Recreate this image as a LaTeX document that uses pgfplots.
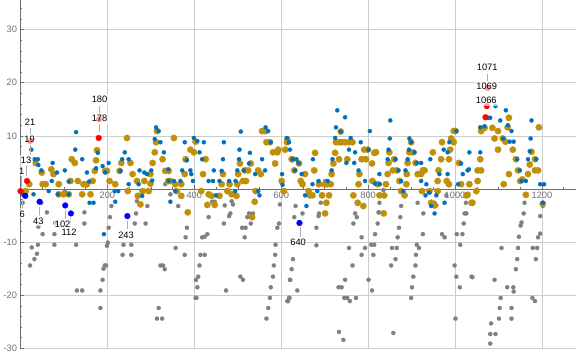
\documentclass[border=0pt]{standalone}
\usepackage{fontspec}
\setmainfont{Liberation Sans}
\usepackage{pgfplots}
\pgfplotsset{compat=1.18}
\definecolor{mblue}{RGB}{0,112,190}
\definecolor{mgold}{RGB}{192,144,8}
\definecolor{mgray}{RGB}{128,128,128}
\definecolor{tickc}{RGB}{110,110,110}
\definecolor{gridc}{RGB}{204,204,204}
\definecolor{calc}{RGB}{175,175,175}
\begin{document}
\begin{tikzpicture}
\begin{axis}[
  set layers=standard,
  scale only axis, width=555.5bp, height=349.3bp,
  xmin=0, xmax=1277.6, ymin=-30.2, ymax=35.5,
  axis lines=middle,
  axis line style={-, draw=tickc, line width=0.7bp},
  xtick={200,400,...,1200}, minor xtick={50,100,...,1250},
  ytick={-30,-20,-10,10,20,30}, minor ytick={-28,-26,...,-2,2,4,...,34},
  tick align=inside,
  major tick length=3.5bp, minor tick length=2bp,
  tick style={draw=tickc, line width=0.5bp},
  grid=major, major grid style={draw=gridc, line width=0.6bp},
  /pgf/number format/assume math mode=true,
  /pgf/number format/1000 sep={},
  tick label style={font=\fontsize{9.3bp}{11bp}\selectfont, text=tickc},
  clip=false,
]
% gray series
\addplot[only marks, mark=*, mark size=2.1bp, color=mgray, mark options={solid, line width=0.2bp}] table {
5 -2.6
26 -11
22 -14.4
32 -13.2
38 -12.2
40 -10.5
51 -8.5
41 -7.1
78 -10.5
78 -8.5
80 -6.4
128 -10.5
130 -19.1
142 -19.1
147 -6.5
147 -4.4
184 -19.1
184 -22.4
189 -17.1
191 -15
194 -14.4
199 -10.7
201 -10.1
102 -0.4
48 -2.6
61 -4.4
209 -3.2
206 -5.3
203 -7.3
197 -14.4
237 -10.5
235 -12.4
255 -10.5
255 -12.4
266 -4.6
263 -6.5
288 -6.5
292 -3.2
268 -2.3
322 -14.4
328 -14.4
332 -15.1
318 -22.4
314 -24.4
326 -24.4
357 -11.1
363 -3.2
378 -12.4
380 -9.1
383 -7.3
404 -17.1
407 -18.5
403 -20.5
345 -1.0
333 0.9
433 -5.3
418 -9.1
430 -8.5
424 -9.0
414 -12.4
424 -12.4
412 -14.4
409 -16.5
405 -20.5
441 -2.4
447 -2.4
470 -3.1
468 -6.5
473 -19.1
480 -5.1
483 -4.6
489 -2.9
486 -2.3
510 -7.3
518 -7.3
516 -9.1
522 -5.3
526 -4.6
535 -4.6
530 -6.5
506 -16.5
512 -17.1
566 -24.4
570 -22.4
574 -20.5
576 -18.5
581 -16.5
583 -14.4
586 -12.4
587 -10.5
591 -7.3
595 -6.5
597 -2.9
616 -21.1
619 -20.5
621 -17.1
633 -3.2
630 -5.3
649 -4.6
681 -7.3
681 -10.6
686 -5.1
687 -4.6
691 -2.6
627 -13.2
624 -15.1
620 -17.1
618 -20.5
614 -21.1
637 -19.1
732 -18.5
739 -18.5
747 -17.1
745 -20.5
752 -20.5
758 -21.1
772 -20.5
733 -26.9
743 -28.4
756 -11.1
764 -14.4
766 -6.5
770 -4.6
774 -5.3
785 -9.1
785 -12.4
793 -11.1
801 -17.1
809 -19.1
807 -10.5
812 -12.4
814 -10.5
816 -8.5
822 -6.5
824 -4.4
694 0.9
701 1.5
826 -2.6
825 -4.4
876 -3.2
874 -5.3
871 -7.3
868 -9.1
855 -11.1
866 -11.1
863 -13.2
853 -14.4
858 -27.1
835 -0.2
914 -2.6
926 -8.5
927 -4.6
912 -10.5
917 -11.1
910 -12.4
909 -14.4
904 -16.5
901 -18.5
899 -20.5
953 -2.6
957 -3.1
970 -8.5
976 -9.1
980 -1.2
1004 -8.5
1017 -8.5
1012 -10.5
999 -14.4
1003 -16.5
1011 -18.5
1001 -24.4
1020 -6.5
1022 -4.6
1025 -2.6
1038 -16.5
1026 -4.6
1040 -16.6
1091 -17.1
1083 -25.3
1081 -27.3
1093 -27.3
1081 -29.1
1101 -24.4
1103 -22.4
1105 -20.5
1107 -11.1
1120 -18.5
1130 -22.4
1130 -24.4
1134 -18.5
1135 -19.3
1140 -15.1
1143 -13.2
1145 -11.1
1147 -9.0
1151 -6.9
1153 -6.3
1158 -4.6
1160 -2.6
1178 -20.5
1184 -21.1
1179 -11.1
1189 -11.1
1186 -13.2
1191 -9.1
1196 -8.4
1196 -5.1
1202 -3.2
1203 -2.6
};
% gold series
\addplot[only marks, mark=*, mark size=3.2bp, color=mgold, mark options={solid, line width=0.3bp}] table {
20 0.9
12 -0.4
49 3.1
51 0.9
58 0.9
71 3.7
76 2.8
88 0.9
88 -1.0
99 -1.0
111 -1.0
118 5.6
125 4.9
115 1.5
132 1.5
142 -1.0
145 0.9
153 0.9
166 1.5
171 3.4
174 5.4
176 7.3
195 3.4
161 -1.0
34 4.9
199 3.4
205 1.5
218 0.9
228 3.4
232 4.9
245 9.6
247 -0.4
253 4.9
258 2.8
268 1.5
270 -1.3
276 -2.9
281 -0.4
285 1.5
299 2.8
299 1.0
304 4.9
309 6.9
312 8.8
314 10.9
327 5.6
333 3.4
341 3.4
340 1.5
345 1.5
353 9.6
356 0.9
360 -0.4
370 0.9
378 2.8
380 5.6
370 -1.3
385 -4.4
391 7.4
399 6.9
403 8.9
295 -0.4
426 5.6
420 2.8
416 -0.4
433 -1.0
430 -3.0
447 -3.0
440 -1.3
458 -1.3
463 0.9
466 2.8
476 -0.4
481 0.9
486 -1.0
497 -1.3
499 0.9
501 2.8
505 4.8
512 1.5
519 1.5
516 3.5
524 3.5
530 4.8
547 3.5
553 2.8
556 10.9
564 10.9
566 8.8
574 8.8
581 6.9
586 4.8
591 6.9
593 7.4
609 7.4
613 8.8
601 1.5
606 -0.4
539 -2.4
541 -0.4
533 -5.3
626 5.6
614 9.3
624 5.6
630 3.5
641 4.8
645 1.5
649 0.9
655 2.8
663 -0.4
666 -1.2
672 -1.2
676 3.5
678 6.8
687 0.9
694 -1.2
701 0.9
707 0.9
714 0.9
710 -1.2
704 -2.6
701 -4.6
716 2.8
720 4.8
724 6.8
726 8.8
733 8.8
737 10.8
739 8.8
733 5.6
747 8.8
752 5.6
756 8.8
764 8.8
766 -1.2
776 -2.6
778 0.9
780 2.8
785 5.6
791 7.4
795 5.6
799 7.4
789 -3.2
809 4.8
810 1.5
814 6.8
826 -1.2
818 6.9
822 0.9
837 -1.2
836 -4.6
841 0.9
847 4.9
849 6.9
845 2.8
857 3.5
860 5.6
866 3.5
872 1.5
876 -0.4
884 -1.2
888 0.9
889 2.8
891 4.9
895 6.9
899 8.8
903 6.9
909 4.9
914 2.8
922 2.8
926 3.5
930 3.5
924 -0.4
941 -0.4
945 -2.6
953 -3.1
949 6.9
960 1.5
962 3.5
960 -0.4
968 5.6
970 8.8
981 1.5
986 0.9
986 5.6
989 7.4
991 9.5
997 8.8
997 10.9
1001 10.9
1009 4.9
1014 0.9
1026 -1.2
1038 -2.6
1033 0.9
1029 -1.1
1040 -2.6
1049 -0.4
1052 1.5
1052 3.5
1060 3.5
1058 5.6
1060 10.9
1068 11.5
1086 11.5
1091 9.5
1099 10.9
1099 7.4
1110 9.5
1116 8.9
1121 11.6
1124 13.4
1133 7.4
1140 5.6
1145 3.5
1150 1.5
1124 2.8
1112 0.9
1163 -1.1
1168 2.8
1172 4.6
1176 7.0
1184 5.6
1184 3.5
1191 3.5
1193 11.6
1202 -2.8
1155 1.8
};
% blue series
\addplot[only marks, mark=*, mark size=2.1bp, color=mblue, mark options={solid, line width=0.2bp}] table {
25 7.4
32 5.6
40 5.6
41 4.5
48 3.5
30 -1.0
5 -1.0
65 -0.4
74 4.9
72 1.5
84 3.1
102 3.5
111 1.4
126 7.4
128 10.7
142 5.6
153 3.1
158 1.4
159 -2.6
168 -2.6
174 3.9
178 6.8
192 -8.5
195 3.1
86 -1.0
111 -1.0
189 4.3
203 4.9
240 6.9
234 5.6
249 5.6
230 3.4
217 -0.4
225 -0.4
218 -2.4
249 0.9
272 0.9
274 3.5
291 2.8
301 3.5
280 -1.3
303 1.6
312 11.6
318 10.9
322 8.8
309 9.4
330 6.9
340 3.7
341 1.5
353 1.5
345 -2.4
356 -0.4
368 1.5
372 3.5
378 8.8
383 5.4
391 3.5
393 2.8
399 9.6
407 9.0
397 1.5
285 3.1
422 8.8
412 6.9
418 5.6
445 3.5
433 1.5
443 1.5
463 3.4
468 8.8
466 5.6
458 1.5
480 1.5
495 1.5
499 3.5
503 5.6
507 10.8
504 7.4
528 6.8
526 4.8
514 3.5
540 2.8
556 5.6
563 3.5
564 11.6
570 10.9
576 8.8
547 -0.4
550 -1.2
602 2.8
603 0.8
613 9.6
618 8.8
494 -0.4
450 -1.2
620 7.4
626 5.6
635 5.6
640 4.9
632 3.5
647 2.8
658 -3.2
655 -1.2
672 0.9
673 5.6
683 -0.4
686 1.5
707 1.5
716 3.5
718 5.6
724 9.6
726 11.6
729 14.8
737 10.8
747 13.5
750 4.9
756 7.4
760 9.6
770 6.9
768 4.9
778 3.5
783 8.8
793 1.5
804 10.9
801 7.4
816 1.0
851 12.9
850 9.5
826 2.8
827 0.9
847 7.4
845 5.6
863 5.6
870 3.5
876 1.5
886 3.5
881 -0.4
891 5.6
895 9.5
899 8.8
894 7.4
907 6.9
912 4.9
922 4.9
922 1.5
932 -1.2
934 0.9
943 5.6
945 -3.2
953 -4.6
957 -1.2
964 2.8
976 -2.6
974 7.4
983 6.9
983 2.8
987 8.8
1003 10.9
1007 0.9
1014 4.8
1018 2.8
1029 3.5
1033 6.9
941 -0.7
1032 3.7
1058 6.9
1076 13.4
1081 13.4
1093 15.6
1104 12.9
1117 14.8
1122 12.0
1130 10.9
1111 9.5
1126 8.9
1135 8.9
1143 5.6
1149 3.5
1153 1.5
1163 1.5
1168 5.6
1172 7.1
1174 9.5
1176 12.9
1187 5.6
1196 0.9
1205 0.9
1202 -2.6
1068 11.8
1058 11.6
};
% highlighted red points
\addplot[only marks, mark=*, mark size=2.9bp, color=red, mark options={solid, line width=0.3bp}] table {
0 -0.4
15 1.5
22 9.0
180 9.6
181 13.1
1070 13.5
1073 15.6
1075 19.0
};
% highlighted blue points
\addplot[only marks, mark=*, mark size=2.9bp, color=blue, mark options={solid, line width=0.3bp}] table {
11 -1.3
44 -2.4
103 -3.1
116 -4.6
246 -5.1
642 -6.4
};
\begin{pgfonlayer}{axis foreground}
% callout leader lines
\begin{scope}[draw=calc, line width=0.6bp]
\draw (axis cs:182,15.6) -- (axis cs:182,14.1);
\draw (axis cs:182,12.3) -- (axis cs:182,10.8);
\draw (axis cs:22,11.5) -- (axis cs:22,10.2);
\draw (axis cs:22,8.3) -- (axis cs:22,6.4);
\draw (axis cs:14,4.3) -- (axis cs:14,2.5);
\draw (axis cs:3,2.4) -- (axis cs:3,0.4);
\draw (axis cs:5,-1.9) -- (axis cs:5,-3.7);
\draw (axis cs:43,-3.4) -- (axis cs:43,-5.0);
\draw (axis cs:103,-3.9) -- (axis cs:103,-5.6);
\draw (axis cs:115,-5.5) -- (axis cs:115,-7.1);
\draw (axis cs:246,-6.0) -- (axis cs:246,-7.6);
\draw (axis cs:643,-7.2) -- (axis cs:643,-9.0);
\draw (axis cs:1074,21.6) -- (axis cs:1074,20.3);
\end{scope}
% callout labels
\begin{scope}[every node/.style={font=\fontsize{9.3bp}{11bp}\selectfont, text=black, fill=white, fill opacity=0.62, text opacity=1, inner xsep=1.2bp, inner ysep=2.2bp}]
\node at (axis cs:3,3.4) {1};
\node at (axis cs:13,5.4) {13};
\node at (axis cs:21,9.4) {19};
\node at (axis cs:22,12.6) {21};
\node at (axis cs:4,-4.7) {6};
\node at (axis cs:41,-6.0) {43};
\node at (axis cs:97,-6.6) {102};
\node at (axis cs:112,-8.2) {112};
\node at (axis cs:243,-8.7) {243};
\node at (axis cs:639,-10.1) {640};
\node at (axis cs:182,16.8) {180};
\node at (axis cs:182,13.3) {178};
\node at (axis cs:1074,22.9) {1071};
\node at (axis cs:1073,19.3) {1069};
\node at (axis cs:1072,16.7) {1066};
\end{scope}
\end{pgfonlayer}
\end{axis}
\path ([xshift=-20.5bp,yshift=-6.7bp]current axis.south west) (current axis.north east);
\end{tikzpicture}
\end{document}
